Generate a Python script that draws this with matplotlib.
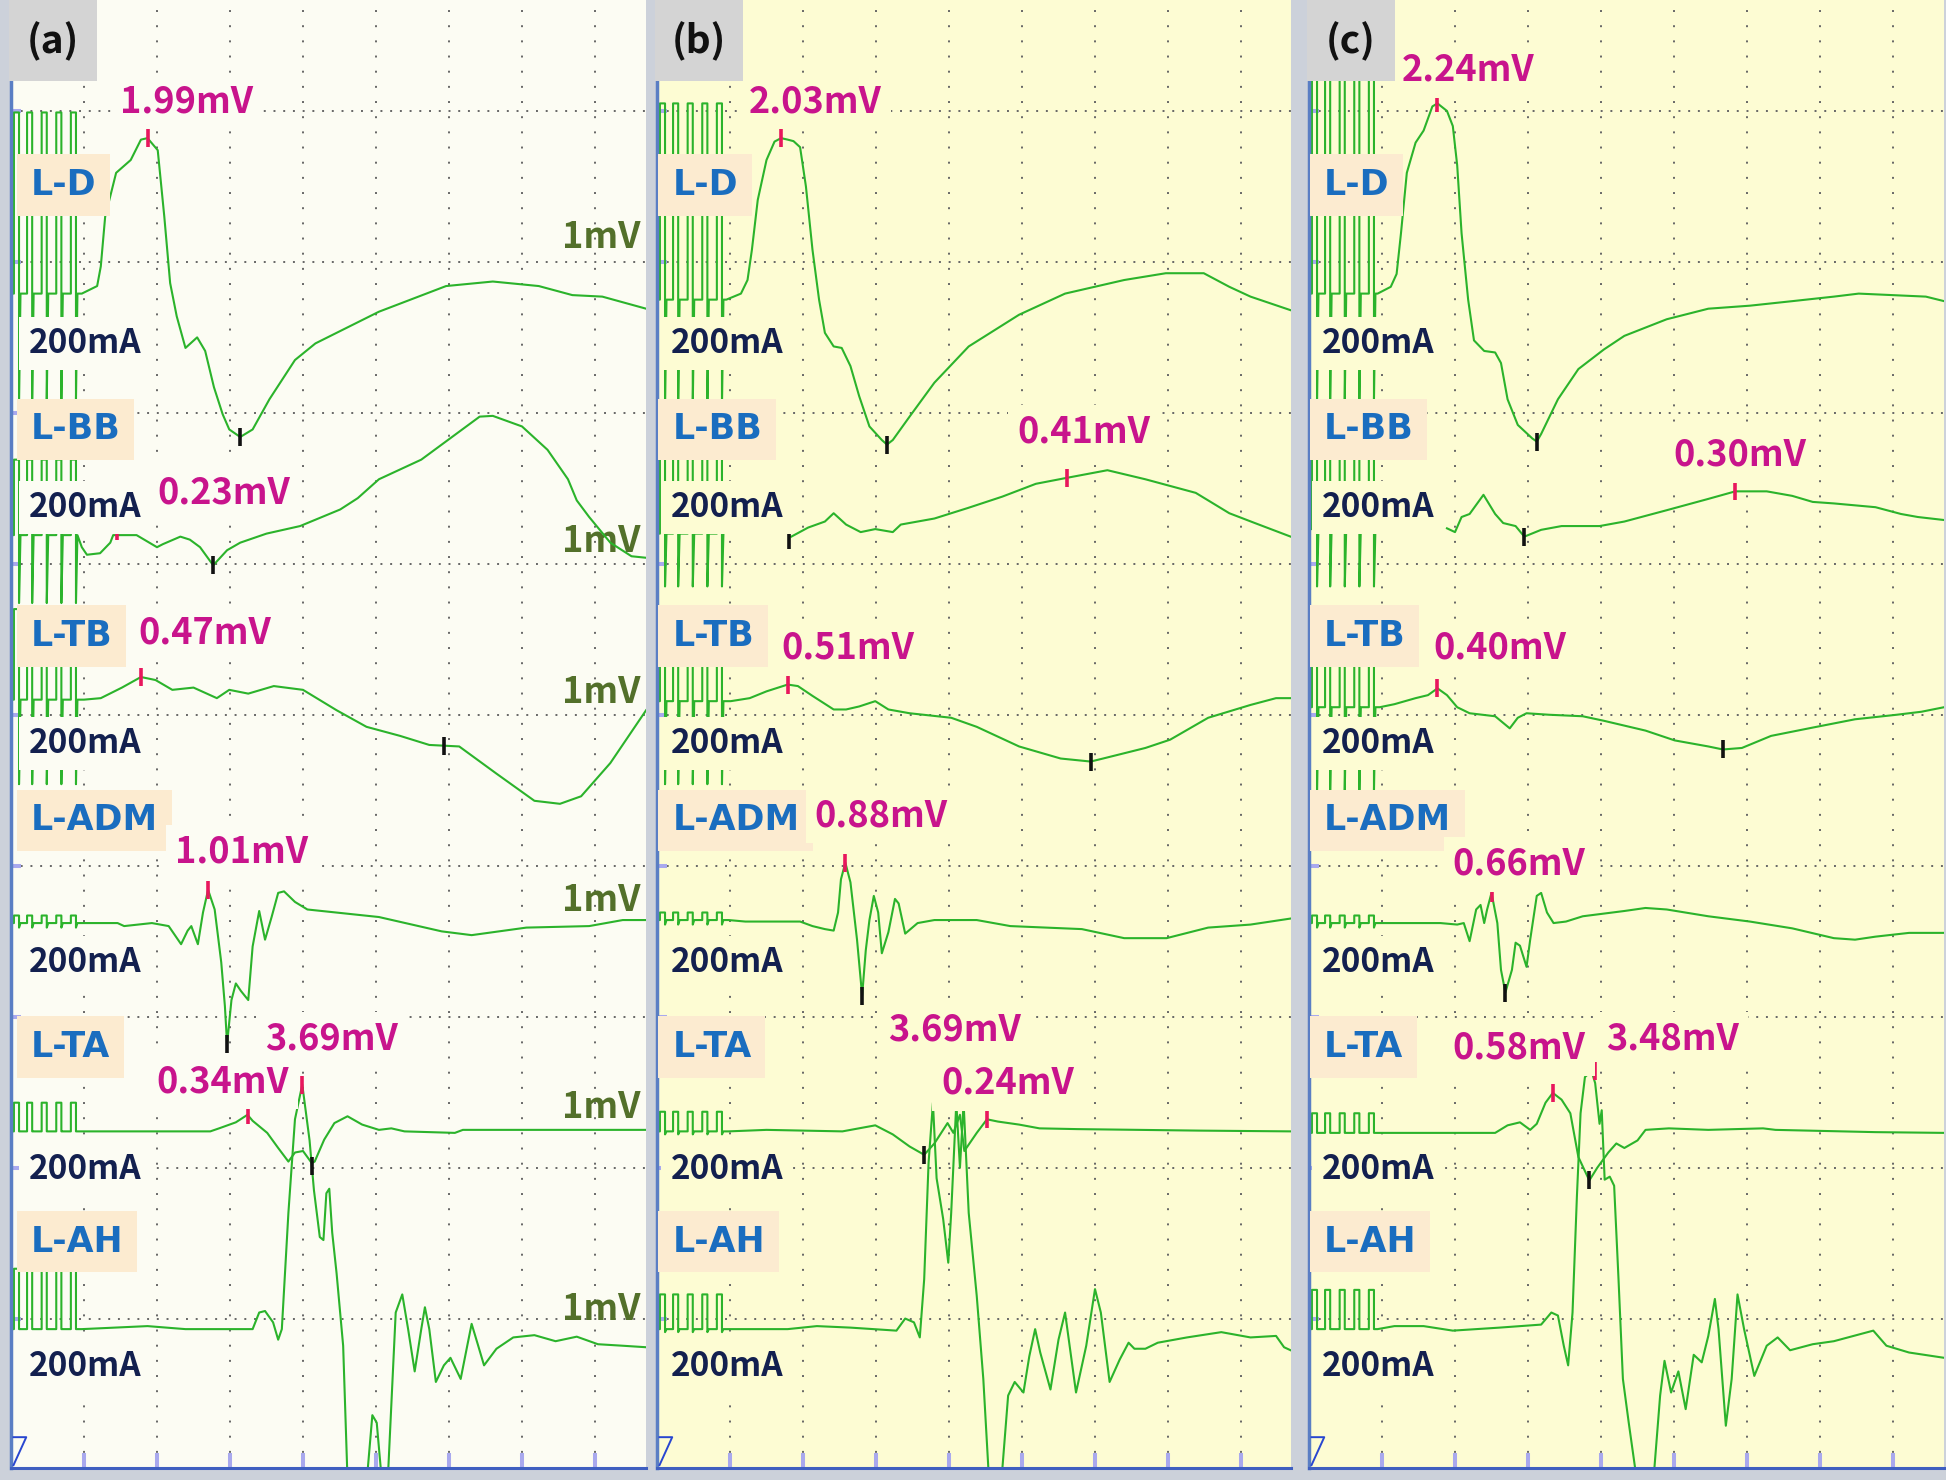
import numpy as np
import matplotlib.pyplot as plt
from matplotlib.patches import Rectangle

plt.rcParams['font.family'] = ['Noto Sans CJK JP', 'DejaVu Sans']

# channel names and panel tags
channels = ["L-D", "L-BB", "L-TB", "L-ADM", "L-TA", "L-AH"]
panels = ["(a)", "(b)", "(c)"]

# baselines of each channel, in screen divisions from the top grid line (1 div = 1 mV)
a_base = [1.21, 2.81, 3.90, 5.38, 6.76, 8.07]
b_base = [1.25, 2.80, 3.91, 5.36, 6.76, 8.07]
c_base = [1.21, 2.77, 3.95, 5.38, 6.77, 8.07]

# train of 5 stimulus pulses (onset in div) and artifact extent per channel (mV)
pulse_t = [0.04, 0.22, 0.42, 0.62, 0.82]
pulse_w = 0.07
a_art_hi = [1.2, 0.5, 0.6, 0.05, 0.19, 0.4]
a_art_lo = [-0.7, -0.45, -0.56, -0.03, 0.0, 0.0]
b_art_hi = [1.3, 0.5, 0.6, 0.05, 0.13, 0.23]
b_art_lo = [-0.7, -0.35, -0.55, -0.03, -0.02, -0.02]
c_art_hi = [1.45, 0.5, 0.6, 0.05, 0.13, 0.26]
c_art_lo = [-0.7, -0.38, -0.55, -0.03, 0.0, 0.0]

# channels whose trace is blanked between the artifact and the first sample shown
a_blank = [False, False, False, False, False, False]
b_blank = [False, True, False, False, False, False]
c_blank = [False, True, False, False, False, False]

# MEP waveforms: (time [div], amplitude [mV])
a_LD = [(0.97, 0), (1.18, 0.05), (1.23, 0.18), (1.29, 0.51), (1.44, 0.80), (1.64, 0.885), (1.78, 1.02),
        (1.87, 1.03), (2.01, 0.95), (2.10, 0.51), (2.18, 0.07), (2.27, -0.15), (2.39, -0.36), (2.55, -0.29),
        (2.66, -0.38), (2.78, -0.62), (2.90, -0.80), (2.99, -0.90), (3.14, -0.95), (3.31, -0.90),
        (3.54, -0.70), (3.89, -0.44), (4.17, -0.33), (5.04, -0.12), (5.96, 0.05), (6.60, 0.08),
        (7.23, 0.05), (7.69, -0.01), (8.10, -0.02), (8.70, -0.10)]
a_LBB = [(0.97, -0.08), (1.04, -0.13), (1.22, -0.12), (1.36, -0.05), (1.40, 0.0), (1.72, 0.0), (2.0, -0.08),
         (2.08, -0.06), (2.32, -0.01), (2.45, -0.03), (2.59, -0.08), (2.77, -0.20), (2.96, -0.10),
         (3.14, -0.05), (3.50, 0.01), (3.96, 0.06), (4.51, 0.17), (4.75, 0.245), (5.04, 0.37), (5.62, 0.50),
         (6.42, 0.785), (6.60, 0.79), (7.0, 0.72), (7.35, 0.565), (7.63, 0.37), (7.75, 0.23), (7.92, 0.12),
         (8.21, -0.05), (8.50, -0.14), (8.70, -0.15)]
a_LTB = [(1.00, 0), (1.23, 0.01), (1.52, 0.08), (1.78, 0.15), (1.98, 0.13), (2.21, 0.065), (2.50, 0.08),
         (2.82, 0.01), (2.99, 0.065), (3.25, 0.04), (3.60, 0.09), (4.0, 0.065), (4.46, -0.07), (4.87, -0.18),
         (5.33, -0.24), (5.73, -0.30), (6.14, -0.31), (6.65, -0.49), (7.17, -0.67), (7.52, -0.69),
         (7.81, -0.64), (8.21, -0.42), (8.70, -0.07)]
a_LADM = [(0.97, 0), (1.46, 0), (1.55, -0.02), (1.93, 0), (2.16, -0.02), (2.33, -0.14), (2.42, -0.05),
          (2.47, -0.02), (2.56, -0.14), (2.63, 0.07), (2.70, 0.22), (2.79, 0.09), (2.88, -0.26), (2.93, -0.55),
          (2.96, -0.80), (3.02, -0.51), (3.08, -0.40), (3.15, -0.45), (3.25, -0.51), (3.31, -0.155),
          (3.40, 0.08), (3.48, -0.11), (3.57, 0.04), (3.66, 0.20), (3.74, 0.21), (3.89, 0.14), (4.06, 0.09),
          (5.04, 0.04), (5.90, -0.055), (6.31, -0.08), (7.06, -0.03), (7.92, -0.02), (8.38, 0.02), (8.70, 0.02)]
a_LTA = [(0.97, 0), (2.73, 0), (2.85, 0.02), (3.08, 0.06), (3.24, 0.11), (3.31, 0.07), (3.51, -0.01),
         (3.66, -0.11), (3.80, -0.20), (3.89, -0.14), (4.0, -0.13), (4.12, -0.21), (4.16, -0.20),
         (4.29, -0.055), (4.43, 0.055), (4.61, 0.10), (4.81, 0.045), (5.04, 0.01), (5.21, 0.02), (5.39, 0),
         (6.08, -0.01), (6.19, 0.01), (8.70, 0.01)]
a_LAH = [(0.97, 0), (1.87, 0.02), (2.39, 0), (3.31, 0), (3.40, 0.11), (3.48, 0.12), (3.59, 0.045),
         (3.66, -0.07), (3.71, 0), (3.80, 0.77), (3.89, 1.39), (3.99, 1.62), (4.09, 1.25), (4.15, 0.92),
         (4.23, 0.61), (4.28, 0.59), (4.32, 0.90), (4.36, 0.93), (4.40, 0.64), (4.46, 0.37), (4.55, -0.11),
         (4.61, -1.0), (4.66, -2.07), (4.80, -2.0), (4.89, -0.91), (4.95, -0.57), (5.01, -0.62), (5.07, -0.95),
         (5.11, -1.3), (5.17, -0.91), (5.27, 0.11), (5.36, 0.23), (5.44, 0), (5.53, -0.28), (5.62, 0),
         (5.67, 0.145), (5.73, 0), (5.82, -0.35), (5.93, -0.24), (6.02, -0.19), (6.16, -0.33), (6.25, -0.11),
         (6.31, 0.035), (6.40, -0.11), (6.48, -0.24), (6.65, -0.13), (6.88, -0.055), (7.17, -0.04),
         (7.46, -0.08), (7.75, -0.05), (8.04, -0.10), (8.38, -0.11), (8.70, -0.12)]

b_LD = [(0.95, 0), (1.15, 0.04), (1.24, 0.13), (1.30, 0.33), (1.38, 0.66), (1.50, 0.925), (1.61, 1.047),
        (1.70, 1.07), (1.79, 1.06), (1.87, 1.05), (1.96, 1.01), (2.04, 0.75), (2.13, 0.33), (2.22, 0),
        (2.30, -0.22), (2.42, -0.31), (2.53, -0.32), (2.65, -0.44), (2.77, -0.64), (2.91, -0.84),
        (3.08, -0.93), (3.15, -0.96), (3.23, -0.93), (3.46, -0.775), (3.80, -0.55), (4.27, -0.31),
        (4.96, -0.10), (5.59, 0.04), (6.40, 0.13), (6.97, 0.175), (7.49, 0.175), (7.84, 0.085),
        (8.13, 0.02), (8.68, -0.07)]
b_LBB = [(1.84, -0.02), (2.07, 0.04), (2.30, 0.08), (2.42, 0.135), (2.59, 0.06), (2.79, 0.01),
         (2.99, 0.03), (3.23, 0.01), (3.34, 0.06), (3.80, 0.10), (4.26, 0.17), (4.73, 0.245), (5.19, 0.33),
         (5.62, 0.37), (6.17, 0.42), (6.69, 0.36), (7.38, 0.27), (7.84, 0.135), (8.19, 0.07), (8.68, -0.02)]
b_LTB = [(1.01, 0), (1.27, 0.02), (1.50, 0.065), (1.79, 0.11), (1.93, 0.10), (2.13, 0.035), (2.42, -0.055),
         (2.59, -0.055), (2.77, -0.035), (2.99, 0), (3.17, -0.055), (3.46, -0.08), (4.03, -0.11),
         (4.38, -0.17), (4.96, -0.30), (5.53, -0.38), (5.94, -0.40), (6.11, -0.38), (6.69, -0.31),
         (7.03, -0.255), (7.55, -0.11), (8.13, -0.025), (8.48, 0.02), (8.68, 0.02)]
b_LADM = [(0.98, 0), (1.21, -0.01), (1.96, -0.01), (2.13, -0.04), (2.30, -0.06), (2.42, -0.07), (2.48, 0.05),
          (2.52, 0.27), (2.58, 0.38), (2.65, 0.25), (2.74, -0.13), (2.81, -0.50), (2.86, -0.2), (2.91, 0),
          (2.97, 0.16), (3.03, 0.05), (3.08, -0.22), (3.17, -0.08), (3.26, 0.14), (3.31, 0.11), (3.40, -0.09),
          (3.57, -0.02), (3.80, 0), (4.38, 0), (4.84, -0.04), (5.82, -0.06), (6.40, -0.12), (6.98, -0.12),
          (7.55, -0.05), (8.13, -0.03), (8.68, 0.01)]
b_LTA = [(0.98, 0), (1.50, 0.01), (2.54, 0), (2.99, 0.04), (3.23, -0.02), (3.46, -0.10), (3.66, -0.155),
         (3.80, -0.08), (3.98, 0.055), (4.06, -0.01), (4.15, 0.11), (4.21, -0.13), (4.38, -0.01), (4.52, 0.08),
         (4.67, 0.065), (4.96, 0.045), (5.24, 0.02), (5.76, 0.015), (7.44, 0.005), (8.68, 0)]
b_LAH = [(0.95, 0), (1.79, 0), (2.19, 0.02), (2.65, 0.01), (3.28, -0.01), (3.40, 0.07), (3.52, 0.045),
         (3.60, -0.055), (3.66, 0.33), (3.72, 1.10), (3.78, 1.5), (3.83, 1.0), (3.92, 0.73), (3.99, 0.44),
         (4.03, 0.77), (4.10, 1.5), (4.15, 1.07), (4.20, 1.5), (4.27, 0.77), (4.38, 0.22), (4.47, -0.33),
         (4.54, -0.93), (4.60, -2.2), (4.68, -2.2), (4.73, -0.93), (4.81, -0.44), (4.90, -0.35), (5.02, -0.42),
         (5.10, -0.18), (5.18, 0), (5.25, -0.155), (5.39, -0.40), (5.50, -0.07), (5.59, 0.11), (5.74, -0.42),
         (5.88, -0.11), (6.0, 0.265), (6.08, 0.11), (6.20, -0.35), (6.34, -0.20), (6.46, -0.09), (6.54, -0.13),
         (6.69, -0.13), (6.86, -0.09), (7.26, -0.055), (7.73, -0.02), (8.13, -0.055), (8.48, -0.045),
         (8.59, -0.12), (8.68, -0.14)]

c_LD = [(0.94, 0), (1.12, 0.045), (1.20, 0.13), (1.26, 0.40), (1.34, 0.80), (1.46, 1.0), (1.57, 1.08),
        (1.69, 1.24), (1.76, 1.26), (1.89, 1.21), (1.97, 1.11), (2.03, 0.85), (2.09, 0.40), (2.18, -0.04),
        (2.26, -0.31), (2.40, -0.38), (2.55, -0.39), (2.63, -0.46), (2.72, -0.70), (2.86, -0.87),
        (3.06, -0.96), (3.12, -0.98), (3.18, -0.93), (3.41, -0.70), (3.69, -0.50), (4.04, -0.37),
        (4.32, -0.28), (4.90, -0.17), (5.47, -0.10), (6.04, -0.08), (6.62, -0.05), (7.19, -0.02), (7.53, 0),
        (7.99, -0.01), (8.45, -0.02), (8.70, -0.05)]
c_LBB = [(1.89, 0.005), (2.0, -0.02), (2.09, 0.08), (2.20, 0.10), (2.39, 0.227), (2.55, 0.10),
         (2.66, 0.04), (2.83, 0.02), (2.95, -0.05), (3.18, -0.005), (3.46, 0.02), (3.98, 0.02), (4.32, 0.05),
         (4.90, 0.125), (5.47, 0.20), (5.84, 0.25), (6.27, 0.25), (6.62, 0.22), (6.90, 0.18), (7.19, 0.17),
         (7.76, 0.145), (8.11, 0.10), (8.34, 0.08), (8.70, 0.06)]
c_LTB = [(0.97, 0), (1.17, 0.02), (1.46, 0.06), (1.63, 0.08), (1.76, 0.125), (1.89, 0.08), (2.03, 0),
         (2.20, -0.04), (2.55, -0.06), (2.75, -0.14), (2.86, -0.07), (2.98, -0.04), (3.29, -0.05),
         (3.75, -0.06), (4.04, -0.09), (4.61, -0.155), (5.01, -0.22), (5.47, -0.26), (5.67, -0.28),
         (5.93, -0.27), (6.33, -0.19), (6.90, -0.135), (7.48, -0.08), (8.05, -0.05), (8.39, -0.03), (8.70, 0)]
c_LADM = [(0.97, 0), (1.80, 0), (2.03, -0.01), (2.12, 0), (2.20, -0.12), (2.29, 0.09), (2.35, 0.12),
          (2.40, 0), (2.44, 0.09), (2.50, 0.20), (2.58, 0), (2.63, -0.31), (2.69, -0.46), (2.78, -0.31),
          (2.83, -0.13), (2.89, -0.15), (2.98, -0.29), (3.03, -0.11), (3.12, 0.18), (3.18, 0.20), (3.26, 0.07),
          (3.35, 0), (3.52, 0.01), (3.75, 0.045), (4.32, 0.08), (4.61, 0.10), (4.90, 0.09), (5.47, 0.045),
          (6.04, 0.01), (6.62, -0.035), (7.19, -0.10), (7.48, -0.11), (7.76, -0.09), (8.22, -0.065),
          (8.70, -0.065)]
c_LTA = [(0.94, 0), (2.55, 0), (2.72, 0.05), (2.89, 0.07), (3.03, 0.02), (3.12, 0.06), (3.24, 0.20),
         (3.34, 0.265), (3.46, 0.22), (3.58, 0.13), (3.69, -0.16), (3.84, -0.315), (3.95, -0.23), (4.10, -0.13),
         (4.21, -0.07), (4.32, -0.10), (4.50, -0.05), (4.61, 0.02), (4.93, 0.03), (5.47, 0.02), (6.22, 0.03),
         (6.39, 0.02), (7.76, 0.005), (8.70, 0)]
c_LAH = [(0.94, 0), (1.17, 0.02), (1.57, 0.02), (1.97, -0.01), (2.61, 0.01), (3.18, 0.03), (3.32, 0.11),
         (3.41, 0.09), (3.49, -0.11), (3.55, -0.24), (3.61, 0.11), (3.67, 0.88), (3.72, 1.43), (3.78, 1.67),
         (3.87, 1.71), (3.92, 1.63), (3.98, 1.36), (4.01, 1.45), (4.05, 0.99), (4.12, 1.01), (4.18, 0.95),
         (4.24, 0.33), (4.30, -0.33), (4.38, -0.62), (4.47, -0.93), (4.55, -1.77), (4.66, -1.77),
         (4.73, -0.93), (4.81, -0.44), (4.87, -0.21), (4.96, -0.42), (5.06, -0.28), (5.16, -0.53),
         (5.27, -0.17), (5.38, -0.22), (5.47, -0.045), (5.56, 0.2), (5.61, 0), (5.71, -0.64), (5.79, -0.33),
         (5.87, 0.23), (5.96, 0), (6.10, -0.31), (6.27, -0.11), (6.42, -0.055), (6.59, -0.14), (6.90, -0.10),
         (7.19, -0.08), (7.73, -0.01), (7.91, -0.11), (8.22, -0.155), (8.70, -0.19)]

# peak (red) and trough (black) cursors: (time, mV); None = off screen
a_red = [(1.87, 1.03), (1.45, 0.03), (1.78, 0.15), (2.70, 0.22), (3.24, 0.11), (3.99, 1.62)]
a_black = [(3.14, -0.95), (2.77, -0.20), (5.93, -0.31), (2.96, -0.80), (4.12, -0.23), None]
b_red = [(1.70, 1.07), (5.62, 0.37), (1.79, 0.11), (2.58, 0.38), (4.52, 0.08), None]
b_black = [(3.15, -0.96), (1.81, -0.04), (5.94, -0.40), (2.81, -0.50), (3.66, -0.155), None]
c_red = [(1.76, 1.26), (5.84, 0.25), (1.76, 0.125), (2.50, 0.20), (3.34, 0.265), (3.92, 1.71)]
c_black = [(3.12, -0.98), (2.95, -0.05), (5.67, -0.28), (2.69, -0.46), (3.84, -0.315), None]

# peak-to-peak amplitude readouts
a_mv = ["1.99mV", "0.23mV", "0.47mV", "1.01mV", "0.34mV", "3.69mV"]
b_mv = ["2.03mV", "0.41mV", "0.51mV", "0.88mV", "0.24mV", "3.69mV"]
c_mv = ["2.24mV", "0.30mV", "0.40mV", "0.66mV", "0.58mV", "3.48mV"]

# where the readouts sit (left x in div, centre y in div)
a_mv_xy = [(1.49, -0.06), (2.01, 2.53), (1.75, 3.46), (2.25, 4.91), (1.99, 6.43), (3.48, 6.15)]
b_mv_xy = [(1.26, -0.06), (4.93, 2.13), (1.70, 3.56), (2.16, 4.67), (3.89, 6.44), (3.16, 6.09)]
c_mv_xy = [(1.27, -0.27), (4.99, 2.28), (1.71, 3.56), (1.97, 4.99), (1.97, 6.21), (4.07, 6.15)]

label_y = [0.49, 2.11, 3.48, 4.70, 6.20, 7.49]
ma_y = [1.54, 2.63, 4.19, 5.64, 7.01, 8.32]
onemv_y = [0.84, 2.85, 3.85, 5.23, 6.60, 7.94]

bases = [a_base, b_base, c_base]
art_hi = [a_art_hi, b_art_hi, c_art_hi]
art_lo = [a_art_lo, b_art_lo, c_art_lo]
blanks = [a_blank, b_blank, c_blank]
waves = [[a_LD, a_LBB, a_LTB, a_LADM, a_LTA, a_LAH],
         [b_LD, b_LBB, b_LTB, b_LADM, b_LTA, b_LAH],
         [c_LD, c_LBB, c_LTB, c_LADM, c_LTA, c_LAH]]
reds = [a_red, b_red, c_red]
blacks = [a_black, b_black, c_black]
mvs = [a_mv, b_mv, c_mv]
mv_xy = [a_mv_xy, b_mv_xy, c_mv_xy]

green = '#2bb32b'
bgs = ['#fcfcf3', '#fdfcd3', '#fdfcd3']
lefts = [11, 657, 1309]
widths = [635, 634, 635]
text_x = [0.27, 0.21, 0.20]


def build_trace(wave, hi, lo, blank):
    t = [0.0]
    v = [0.0]
    for p in pulse_t:
        t += [p, p, p + pulse_w, p + pulse_w, p + pulse_w + 0.02]
        v += [0.0, hi, hi, lo, 0.0]
    if blank:
        t.append(np.nan)
        v.append(np.nan)
    t += [w[0] for w in wave]
    v += [w[1] for w in wave]
    return np.array(t), np.array(v)


fig = plt.figure(figsize=(19.46, 14.8), dpi=100, facecolor='#ccd1da')

for k in range(3):
    ax = fig.add_axes([lefts[k] / 1946, 12 / 1480, widths[k] / 1946, 1468 / 1480])
    ax.set_facecolor(bgs[k])
    ax.set_xlim(0, widths[k] / 73)
    ax.set_ylim(8.99, -0.735)

    # dotted screen grid
    for gx in range(1, 9):
        ax.axvline(gx, color='#666666', lw=1.4, ls=(0, (1, 6.8)), zorder=0.5)
    for gy in range(0, 9):
        ax.axhline(gy, color='#666666', lw=1.4, ls=(0, (1, 4.0)), zorder=0.5)

    ax.set_xticks(range(1, 9))
    ax.set_yticks(range(0, 9))
    ax.tick_params(axis='x', direction='in', length=11, width=2.9, color='#a9a9ee',
                   labelbottom=False)
    ax.tick_params(axis='y', direction='in', length=7, width=2.9, color='#a9a9ee',
                   labelleft=False)
    for s in ['top', 'right']:
        ax.spines[s].set_visible(False)
    ax.spines['left'].set_color('#5a7ec4')
    ax.spines['left'].set_linewidth(2.5)
    ax.spines['bottom'].set_color('#3f5fc0')
    ax.spines['bottom'].set_linewidth(2.2)

    for i, ch in enumerate(channels):
        base = bases[k][i]
        t, v = build_trace(waves[k][i], art_hi[k][i], art_lo[k][i], blanks[k][i])
        ax.plot(t, base - v, color=green, lw=1.5, zorder=2)

        if reds[k][i] is not None:
            ax.plot(reds[k][i][0], base - reds[k][i][1], marker='|', ms=13, mew=2.6,
                    color='#e8175d', zorder=2.6)
        if blacks[k][i] is not None:
            ax.plot(blacks[k][i][0], base - blacks[k][i][1], marker='|', ms=13, mew=2.6,
                    color='#111111', zorder=2.6)

        ax.text(text_x[k], label_y[i], ch, fontsize=25, color='#1a6dbf', family='DejaVu Sans',
                fontweight='bold', ha='left', va='center', zorder=4,
                bbox=dict(boxstyle='square,pad=0.4', fc='#fcebd0', ec='none'))
        ax.text(text_x[k] - 0.02, ma_y[i], "200mA", fontsize=24, color='#13204f', fontweight='bold',
                ha='left', va='center', zorder=4,
                bbox=dict(boxstyle='square,pad=0.3', fc=bgs[k], ec='none'))
        mx, my = mv_xy[k][i]
        ax.text(mx, my, mvs[k][i], fontsize=26, color='#c8148c', fontweight='bold', ha='left',
                va='center', zorder=4, bbox=dict(boxstyle='square,pad=0.25', fc=bgs[k], ec='none'))
        if k == 0:
            ax.text(8.62, onemv_y[i], "1mV", fontsize=26, color='#53702a', fontweight='bold',
                    ha='right', va='center', zorder=1.5)

    # panel tag in a grey box
    ax.add_patch(Rectangle((-0.03, -0.735), 1.21, 0.535, fc='#d4d4d4', ec='none',
                           zorder=5, clip_on=False))
    ax.text(0.57, -0.46, panels[k], fontsize=28, fontweight='bold', color='#111111',
            ha='center', va='center', zorder=6)

    # trigger mark at lower left
    ax.plot([0.004, 0.024, 0.004], [0.021, 0.021, 0.002], transform=ax.transAxes,
            color='#2846d0', lw=1.4, zorder=3, clip_on=False)

fig.savefig('out.png', dpi=100, facecolor=fig.get_facecolor())
